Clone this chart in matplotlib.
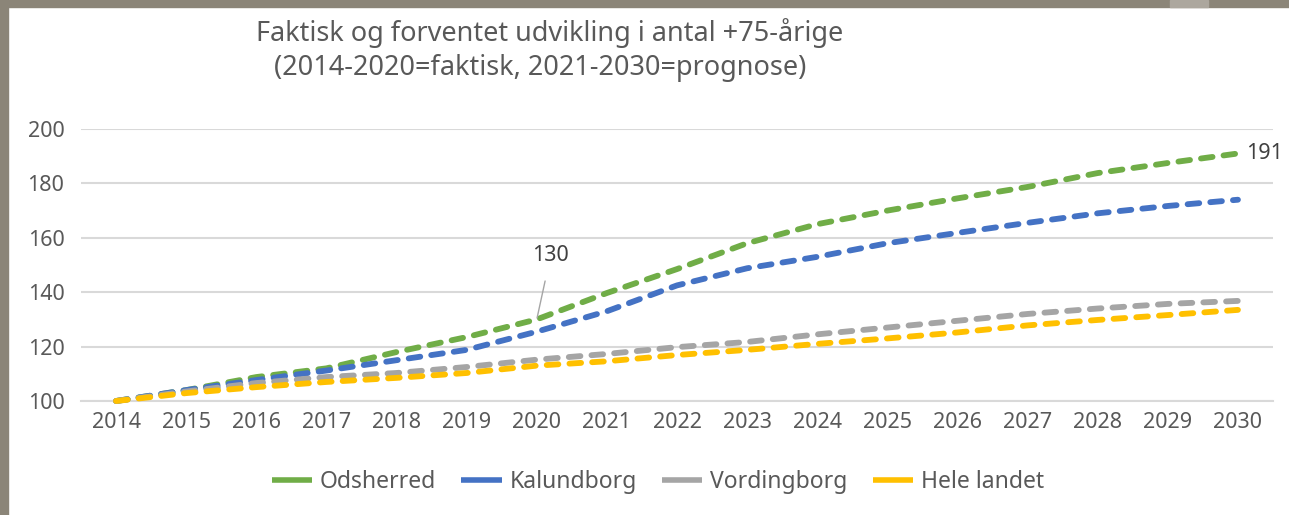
import matplotlib.pyplot as plt
from matplotlib.patches import Rectangle
from matplotlib.lines import Line2D

years = [str(y) for y in range(2014, 2031)]

odsherred = [100, 104, 108.8, 112, 118, 123.5, 130, 139.7, 148.5, 158, 165, 170, 174.5, 178.7, 183.8, 187.5, 191]
kalundborg = [100, 104, 107.7, 111.2, 115, 118.8, 125.5, 133, 142.5, 148.8, 153, 158, 161.8, 165.5, 169, 171.7, 174]
vordingborg = [100, 103.5, 106.6, 108.8, 110.3, 112.5, 115.2, 117.3, 119.8, 121.7, 124.5, 127, 129.5, 132, 134, 135.7, 136.8]
hele_landet = [100, 102.9, 105.1, 107, 108.5, 110.3, 113, 114.6, 116.9, 118.8, 121, 123, 125.2, 127.8, 129.8, 131.6, 133.5]

series = [
    ('Odsherred', odsherred, '#70ad47'),
    ('Kalundborg', kalundborg, '#4472c4'),
    ('Vordingborg', vordingborg, '#a5a5a5'),
    ('Hele landet', hele_landet, '#ffc000'),
]

plt.rcParams['font.family'] = ['Noto Sans', 'DejaVu Sans']
txt = '#595959'

fig = plt.figure(figsize=(12.89, 5.15), dpi=100)
fig.patch.set_facecolor('white')

# grey frame around the slide
fig.patches.append(Rectangle((0, 0), 8 / 1289, 1, transform=fig.transFigure, color='#8b8578', zorder=0))
fig.patches.append(Rectangle((0, 1 - 7 / 515), 1, 7 / 515, transform=fig.transFigure, color='#8b8578', zorder=0))
fig.patches.append(Rectangle((1170 / 1289, 1 - 7 / 515), 38 / 1289, 7 / 515, transform=fig.transFigure, color='#aca79e', zorder=1))

ax = fig.add_axes([81 / 1289, 114 / 515, 1192 / 1289, 272 / 515])
x = list(range(len(years)))
handles = []
for name, vals, col in series:
    ax.plot(x, vals, color=col, lw=4.2, dashes=(2.0, 1.9), dash_capstyle='round',
            clip_on=False, zorder=3)
    handles.append(Line2D([], [], color=col, lw=4, linestyle='-', solid_capstyle='butt', label=name))

ax.set_xlim(-0.5, len(years) - 0.5)
ax.set_ylim(100, 200)
ax.set_yticks(range(100, 201, 20))
ax.set_xticks(x)
ax.set_xticklabels(years)
ax.grid(axis='y', color='#d9d9d9', lw=1.5)
ax.set_axisbelow(True)
for s in ['top', 'right', 'left']:
    ax.spines[s].set_visible(False)
ax.spines['bottom'].set_color('#d9d9d9')
ax.spines['bottom'].set_linewidth(1.5)
ax.tick_params(axis='both', length=0, labelsize=15.5, colors=txt)
ax.tick_params(axis='x', pad=8)
ax.tick_params(axis='y', pad=12)

ax.annotate('130', xy=(6, odsherred[6]), xytext=(10, 46), textcoords='offset points',
            ha='center', va='center', fontsize=15.5, color='#404040',
            arrowprops=dict(arrowstyle='-', color='#a5a5a5', lw=1, shrinkA=9, shrinkB=1))
ax.annotate('191', xy=(16, odsherred[16]), xytext=(6, 0), textcoords='offset points',
            ha='left', va='center', fontsize=15.5, color='#404040')

fig.text(550 / 1289, 1 - 33 / 515, 'Faktisk og forventet udvikling i antal +75-årige',
         ha='center', va='center', fontsize=19.5, color=txt)
fig.text(540 / 1289, 1 - 68 / 515, '(2014-2020=faktisk, 2021-2030=prognose)',
         ha='center', va='center', fontsize=19.5, color=txt)

fig.legend(handles=handles, loc='center', bbox_to_anchor=(658 / 1289, 1 - 482 / 515), ncol=4,
           frameon=False, fontsize=16.5, handlelength=1.75, columnspacing=1.1,
           handletextpad=0.35, labelcolor=txt)

fig.savefig('out.png', dpi=100)
